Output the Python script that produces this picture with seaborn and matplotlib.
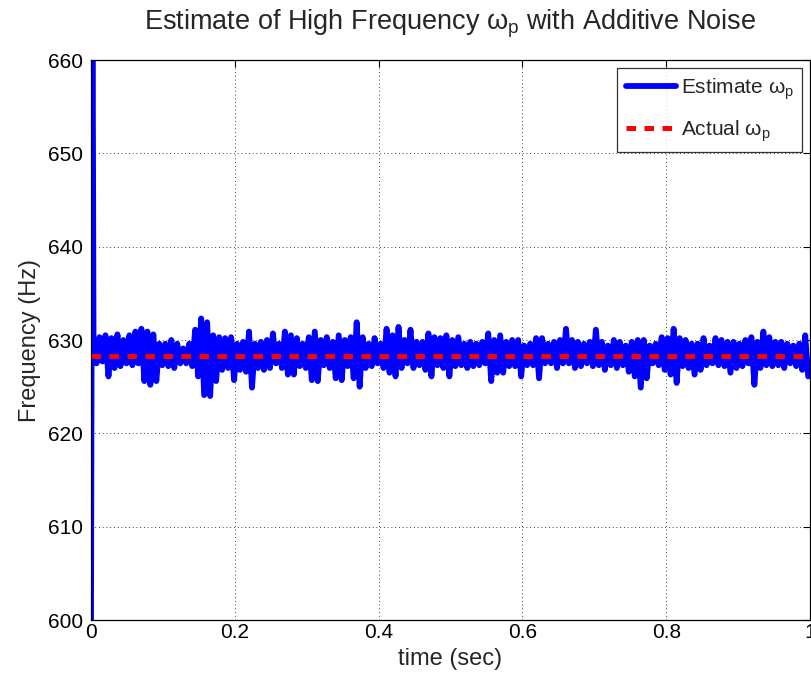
import numpy as np
import pandas as pd
import matplotlib
matplotlib.use("Agg")
import matplotlib.pyplot as plt
import seaborn as sns

# ---- data ----
t_start = [0.0, 0.002]
f_start = [600.0, 672.0]

upper = [629.8, 630.3, 630.5, 630.2, 630.6, 630.0, 630.5, 630.9, 631.2, 630.9, 630.6, 629.6, 629.6, 630.0, 629.6,
         629.1, 629.6, 631.1, 632.3, 631.9, 630.5, 630.3, 630.2, 630.3, 629.6, 629.8, 630.9, 629.6, 629.8,
         630.0, 630.7, 629.6, 630.9, 630.5, 630.2, 629.6, 630.3, 630.9, 630.0, 630.3, 629.8, 630.5, 630.0, 630.3,
         631.9, 630.3, 629.6, 630.2, 629.6, 631.2, 630.5, 631.4, 630.0, 631.1, 629.8, 629.8, 630.7, 630.3,
         630.2, 630.5, 630.0, 630.3, 629.6, 629.8, 629.6, 629.8, 630.7, 630.0, 630.5, 629.8, 630.0, 630.0, 629.4,
         629.6, 630.2, 630.2, 629.6, 629.8, 630.0, 631.2, 630.0, 629.8, 629.6, 629.8, 631.1, 629.8, 629.4, 630.0,
         629.8, 629.4, 629.8, 630.0, 630.0, 629.4, 629.6, 630.3, 630.2, 631.2, 630.2, 630.0, 629.6, 629.6, 630.2,
         629.4, 630.2, 630.0, 629.8, 629.8, 629.6, 630.0, 630.3, 629.8, 630.9, 630.3, 629.8, 629.8, 629.6, 629.4,
         629.6, 630.5]
lower = [627.5, 627.7, 626.1, 627.0, 627.2, 627.5, 627.3, 627.5, 625.6, 625.2, 625.6, 627.3, 627.2, 627.0, 627.5,
         627.5, 627.2, 626.1, 624.1, 624.0, 625.6, 626.8, 627.0, 625.7, 626.8, 626.6, 624.9, 627.0, 626.8,
         627.0, 627.5, 627.0, 626.3, 626.3, 627.2, 627.0, 625.7, 625.6, 627.3, 627.0, 625.9, 625.7, 627.2, 625.9,
         625.0, 627.0, 627.2, 627.5, 627.0, 626.5, 626.1, 627.0, 627.5, 627.0, 627.3, 626.8, 626.1, 627.3,
         627.0, 626.1, 627.2, 627.3, 627.0, 627.2, 627.3, 627.5, 625.6, 626.5, 626.5, 627.2, 627.2, 626.1, 627.3,
         627.3, 625.9, 627.5, 627.5, 627.0, 627.5, 627.5, 627.0, 627.2, 627.5, 627.2, 627.3, 626.8, 627.3, 627.0,
         627.3, 626.6, 626.1, 624.9, 625.9, 627.5, 627.3, 626.8, 626.3, 625.4, 627.2, 627.0, 626.3, 626.8, 627.3,
         627.5, 627.3, 627.2, 626.5, 627.0, 627.2, 627.5, 625.2, 627.0, 627.3, 627.2, 627.3, 627.0, 627.5, 627.2,
         626.8, 626.1]
actual_freq = 628.32
x_ticks = [0, 0.2, 0.4, 0.6, 0.8, 1]
x_tick_labels = ["0", "0.2", "0.4", "0.6", "0.8", "1"]
y_ticks = [600, 610, 620, 630, 640, 650, 660]

# ---- build series ----
band = np.empty(2 * len(upper))
band[0::2] = upper
band[1::2] = lower
t_band = np.linspace(0.0035, 0.9975, len(band))
est = pd.DataFrame({"t": np.concatenate([t_start, t_band]),
                    "f": np.concatenate([f_start, band])})
act = pd.DataFrame({"t": [0.0, 1.0], "f": [actual_freq, actual_freq]})

sns.set_style("white")
plt.rcParams["font.family"] = ["Liberation Sans", "DejaVu Sans"]
plt.rcParams["mathtext.fontset"] = "custom"
plt.rcParams["mathtext.rm"] = "Liberation Sans"
plt.rcParams["mathtext.it"] = "Liberation Sans"

fig = plt.figure(figsize=(8.12, 6.82), dpi=100)
ax = fig.add_axes([91 / 812, 62 / 682, 719 / 812, 560 / 682])

sns.lineplot(data=est, x="t", y="f", ax=ax, estimator=None, sort=False,
             color="#0000ff", lw=4.2, label=r"Estimate $\omega_p$", solid_joinstyle="round")
sns.lineplot(data=act, x="t", y="f", ax=ax, estimator=None, sort=False,
             color="#ff0000", lw=3.6, linestyle=(0, (1.9, 1.7)), label=r"Actual $\omega_p$")

ax.set_xlim(0, 1)
ax.set_ylim(600, 660)
ax.set_xticks(x_ticks)
ax.set_xticklabels(x_tick_labels)
ax.set_yticks(y_ticks)
ax.tick_params(direction="in", length=5, width=0.8, top=True, right=True,
               labelsize=15, colors="black")
ax.tick_params(axis="y", pad=5.5)
ax.tick_params(axis="x", pad=2.5)
ax.grid(True, color="black", linestyle=(0, (1, 3.5)), lw=0.6)
for s in ax.spines.values():
    s.set_color("black")
    s.set_linewidth(0.9)
ax.set_xlabel("time (sec)", fontsize=17, labelpad=4)
ax.set_ylabel("Frequency (Hz)", fontsize=17, labelpad=5)
ax.set_title(r"Estimate of High Frequency $\omega_p$ with Additive Noise", fontsize=19.5, pad=22)

leg = ax.legend(loc="upper right", fontsize=15, frameon=True, fancybox=False,
                borderaxespad=0.38, handlelength=2.4, labelspacing=0.8, borderpad=0.4,
                handletextpad=0.25)
leg.get_frame().set_edgecolor("black")
leg.get_frame().set_linewidth(0.9)

fig.savefig("out.png", dpi=100)
